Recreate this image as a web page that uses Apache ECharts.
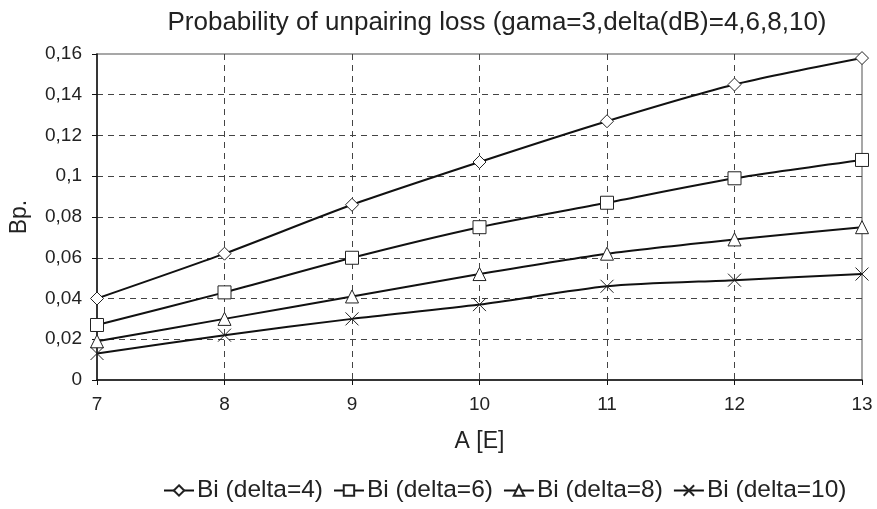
<!DOCTYPE html>
<html>
<head>
<meta charset="utf-8">
<script src="https://cdn.jsdelivr.net/npm/echarts@6/dist/echarts.min.js"></script>
<style>
  html, body { margin: 0; padding: 0; background: #fff; }
  #chart { width: 877px; height: 509px; }
</style>
</head>
<body>
<div id="chart"></div>
<script>
  // data
  var categories = ['7', '8', '9', '10', '11', '12', '13'];
  var delta4 = [0.040, 0.062, 0.086, 0.107, 0.127, 0.145, 0.158];
  var delta6 = [0.027, 0.043, 0.060, 0.075, 0.087, 0.099, 0.108];
  var delta8 = [0.019, 0.030, 0.041, 0.052, 0.062, 0.069, 0.075];
  var delta10 = [0.013, 0.022, 0.030, 0.037, 0.046, 0.049, 0.052];
  var seriesNames = ['Bi (delta=4)', 'Bi (delta=6)', 'Bi (delta=8)', 'Bi (delta=10)'];

  var font = 'Liberation Sans, Arial, sans-serif';
  var crossPath = 'path://M0,0L10,10M10,0L0,10';

  function makeSeries (name, data, symbol, size) {
    return {
      name: name,
      type: 'line',
      data: data,
      smooth: 0.25,
      symbol: symbol,
      symbolSize: size,
      lineStyle: { color: '#111', width: 2 },
      itemStyle: { color: '#fff', borderColor: '#222', borderWidth: 1 }
    };
  }

  var chart = echarts.init(document.getElementById('chart'));
  var option = {
    animation: false,
    backgroundColor: '#fff',
    title: {
      text: 'Probability of unpairing loss (gama=3,delta(dB)=4,6,8,10)',
      left: 492,
      textAlign: 'center',
      top: 5,
      textStyle: { fontFamily: font, fontSize: 26, fontWeight: 'normal', color: '#222' }
    },
    legend: {
      bottom: 1,
      left: 158,
      itemWidth: 30,
      itemHeight: 13,
      itemGap: 10,
      textStyle: { fontFamily: font, fontSize: 24.5, color: '#222', padding: [0, 0, 0, -2] },
      data: seriesNames
    },
    grid: {
      left: 97,
      right: 15,
      top: 54,
      bottom: 129,
      show: true,
      borderColor: '#8a8a8a',
      borderWidth: 1.5
    },
    xAxis: {
      type: 'category',
      data: categories,
      boundaryGap: false,
      name: 'A [E]',
      nameLocation: 'middle',
      nameGap: 50,
      nameTextStyle: { fontFamily: font, fontSize: 23, color: '#222' },
      axisLine: { lineStyle: { color: '#111', width: 1.5 } },
      axisTick: { show: true, length: 5, lineStyle: { color: '#111' } },
      axisLabel: { fontFamily: font, fontSize: 19, color: '#222', margin: 15 },
      splitLine: {
        show: true,
        showMinLine: false,
        showMaxLine: false,
        lineStyle: { color: '#444', type: [6, 5], width: 1 }
      }
    },
    yAxis: {
      type: 'value',
      min: 0,
      max: 0.16,
      interval: 0.02,
      name: 'Bp.',
      nameLocation: 'middle',
      nameGap: 66,
      nameTextStyle: { fontFamily: font, fontSize: 23, color: '#222' },
      axisLine: { show: true, lineStyle: { color: '#111', width: 1.5 } },
      axisTick: { show: true, length: 5, lineStyle: { color: '#111' } },
      axisLabel: {
        fontFamily: font,
        fontSize: 19,
        color: '#222',
        margin: 15,
        formatter: function (v) {
          return String(Math.round(v * 100) / 100).replace('.', ',');
        }
      },
      splitLine: {
        show: true,
        showMinLine: false,
        showMaxLine: false,
        lineStyle: { color: '#444', type: [6, 5], width: 1 }
      }
    },
    series: [
      makeSeries(seriesNames[0], delta4, 'diamond', 13),
      makeSeries(seriesNames[1], delta6, 'rect', 13),
      makeSeries(seriesNames[2], delta8, 'triangle', 13),
      makeSeries(seriesNames[3], delta10, crossPath, 13)
    ]
  };
  chart.setOption(option);
</script>
</body>
</html>
